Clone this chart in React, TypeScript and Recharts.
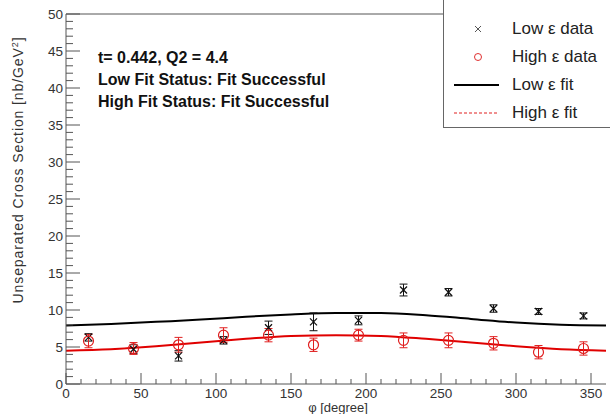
import React from "react";
import {
  ComposedChart,
  XAxis,
  YAxis,
  Scatter,
  Line,
  ErrorBar,
  ReferenceLine,
} from "recharts";

const FONT = '"Liberation Sans", Arial, Helvetica, sans-serif';

// phi bins (degrees)
const PHI = [15, 45, 75, 105, 135, 165, 195, 225, 255, 285, 315, 345];

const LOW_VALUES = [6.3, 4.7, 3.8, 5.9, 7.6, 8.4, 8.6, 12.7, 12.4, 10.2, 9.8, 9.2];
const LOW_ERRORS = [0.5, 0.6, 0.7, 0.5, 0.9, 1.2, 0.6, 0.8, 0.5, 0.5, 0.4, 0.4];

const HIGH_VALUES = [5.8, 4.8, 5.3, 6.6, 6.6, 5.3, 6.6, 5.9, 5.9, 5.5, 4.3, 4.8];
const HIGH_ERRORS = [0.9, 0.8, 1.0, 1.0, 0.9, 0.9, 0.8, 1.0, 1.0, 0.9, 0.9, 0.9];

const FIT_PHI = [0, 30, 60, 90, 120, 150, 180, 210, 240, 270, 300, 330, 360];
const LOW_FIT = [7.9, 8.1, 8.4, 8.7, 9.1, 9.4, 9.6, 9.6, 9.3, 8.8, 8.3, 8.0, 7.9];
const HIGH_FIT = [4.5, 4.7, 5.1, 5.6, 6.1, 6.5, 6.6, 6.5, 6.1, 5.6, 5.1, 4.7, 4.5];

const X_TICKS = Array.from({ length: 37 }, (_, i) => i * 10);
const Y_TICKS = Array.from({ length: 51 }, (_, i) => i);

const lowData = PHI.map((phi, i) => ({ phi, val: LOW_VALUES[i], err: LOW_ERRORS[i] }));
const highData = PHI.map((phi, i) => ({ phi, val: HIGH_VALUES[i], err: HIGH_ERRORS[i] }));
const fitData = FIT_PHI.map((phi, i) => ({ phi, lowFit: LOW_FIT[i], highFit: HIGH_FIT[i] }));

const TICK_COLOR = "#555";
const LABEL_COLOR = "#333";

function XTick(props: any) {
  const { x, y, payload } = props;
  const v = payload.value as number;
  const major = v % 50 === 0;
  if (v > 355) return null;
  return (
    <g>
      <line x1={x} x2={x} y1={y} y2={y - (major ? 11 : 5)} stroke={TICK_COLOR} />
      {major && (
        <text x={x} y={y + 14} textAnchor="middle" fontSize={13.5} fill={LABEL_COLOR} fontFamily={FONT}>
          {v}
        </text>
      )}
    </g>
  );
}

function YTick(props: any) {
  const { x, y, payload } = props;
  const v = payload.value as number;
  const major = v % 5 === 0;
  return (
    <g>
      <line x1={x} x2={x + (major ? 14 : 7)} y1={y} y2={y} stroke={TICK_COLOR} />
      {major && (
        <text x={x - 3} y={y + 5} textAnchor="end" fontSize={13.5} fill={LABEL_COLOR} fontFamily={FONT}>
          {v}
        </text>
      )}
    </g>
  );
}

const CrossShape = (p: any) => {
  const { cx, cy } = p;
  const s = 3.5;
  return (
    <g stroke="#111" strokeWidth={1.2}>
      <line x1={cx - s} y1={cy - s} x2={cx + s} y2={cy + s} />
      <line x1={cx - s} y1={cy + s} x2={cx + s} y2={cy - s} />
    </g>
  );
};

const CircleShape = (p: any) => {
  const { cx, cy } = p;
  return <circle cx={cx} cy={cy} r={5} fill="none" stroke="#e02020" strokeWidth={1.2} />;
};

const textLine: React.CSSProperties = {
  position: "absolute",
  left: 98,
  fontFamily: FONT,
  fontWeight: "bold",
  fontSize: 16,
  color: "#111",
  lineHeight: "18px",
  whiteSpace: "nowrap",
};

const legendText: React.CSSProperties = {
  position: "absolute",
  left: 68,
  fontFamily: FONT,
  fontSize: 17,
  color: "#222",
  lineHeight: "20px",
  whiteSpace: "nowrap",
};

export default function App() {
  return (
    <div style={{ position: "absolute", left: 0, top: 0, width: 610, height: 414, background: "#fff", overflow: "hidden" }}>
      <ComposedChart width={610} height={414} margin={{ top: 14, right: 4, bottom: 0, left: 0 }}>
        <XAxis
          type="number"
          dataKey="phi"
          domain={[0, 360]}
          ticks={X_TICKS}
          interval={0}
          tickSize={0}
          tickMargin={0}
          height={30}
          stroke={TICK_COLOR}
          tick={<XTick />}
        />
        <YAxis
          type="number"
          dataKey="val"
          domain={[0, 50]}
          ticks={Y_TICKS}
          interval={0}
          tickSize={0}
          tickMargin={0}
          width={66}
          stroke={TICK_COLOR}
          tick={<YTick />}
        />
        <ReferenceLine y={50} stroke={TICK_COLOR} />
        <Line
          data={fitData}
          dataKey="lowFit"
          type="monotone"
          stroke="#000"
          strokeWidth={2}
          dot={false}
          isAnimationActive={false}
        />
        <Line
          data={fitData}
          dataKey="highFit"
          type="monotone"
          stroke="#e00000"
          strokeWidth={2}
          dot={false}
          isAnimationActive={false}
        />
        <Scatter data={lowData} dataKey="val" shape={CrossShape} isAnimationActive={false}>
          <ErrorBar dataKey="err" direction="y" width={4} stroke="#111" strokeWidth={1} />
        </Scatter>
        <Scatter data={highData} dataKey="val" shape={CircleShape} isAnimationActive={false}>
          <ErrorBar dataKey="err" direction="y" width={4} stroke="#e02020" strokeWidth={1} />
        </Scatter>
      </ComposedChart>

      {/* annotations */}
      <div style={{ ...textLine, top: 49 }}>t= 0.442, Q2 = 4.4</div>
      <div style={{ ...textLine, top: 71 }}>Low Fit Status: Fit Successful</div>
      <div style={{ ...textLine, top: 93 }}>High Fit Status: Fit Successful</div>

      {/* axis titles */}
      <div
        style={{
          position: "absolute",
          left: 18,
          top: 170,
          transform: "translate(-50%, -50%) rotate(-90deg)",
          fontFamily: FONT,
          fontSize: 14,
          color: LABEL_COLOR,
          whiteSpace: "nowrap",
          letterSpacing: 0.9,
        }}
      >
        Unseparated Cross Section [nb/GeV<sup style={{ fontSize: 9 }}>2</sup>]
      </div>
      <div
        style={{
          position: "absolute",
          left: 338,
          top: 407,
          transform: "translate(-50%, -50%)",
          fontFamily: FONT,
          fontSize: 13,
          color: LABEL_COLOR,
          whiteSpace: "nowrap",
        }}
      >
        φ [degree]
      </div>

      {/* legend */}
      <div
        style={{
          position: "absolute",
          left: 443,
          top: -2,
          width: 200,
          height: 128,
          border: "1px solid #666",
          background: "#fff",
        }}
      >
        <svg width={60} height={128} style={{ position: "absolute", left: 0, top: 0 }}>
          <g stroke="#555" strokeWidth={1}>
            <line x1={31} y1={27} x2={37} y2={33} />
            <line x1={31} y1={33} x2={37} y2={27} />
          </g>
          <circle cx={34} cy={58} r={3.5} fill="none" stroke="#e03030" />
          <line x1={10} x2={55} y1={86} y2={86} stroke="#000" strokeWidth={2} />
          <line x1={10} x2={55} y1={114} y2={114} stroke="#e02020" strokeDasharray="3 2" strokeWidth={1} />
        </svg>
        <div style={{ ...legendText, top: 20 }}>Low ε data</div>
        <div style={{ ...legendText, top: 48 }}>High ε data</div>
        <div style={{ ...legendText, top: 76 }}>Low ε fit</div>
        <div style={{ ...legendText, top: 104 }}>High ε fit</div>
      </div>
    </div>
  );
}
